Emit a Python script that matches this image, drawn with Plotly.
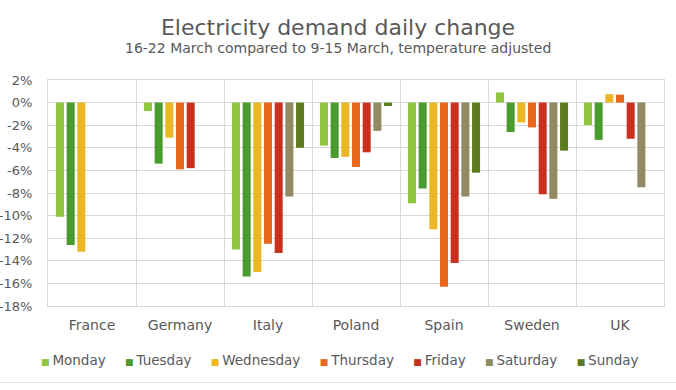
import plotly.graph_objects as go

countries = ["France", "Germany", "Italy", "Poland", "Spain", "Sweden", "UK"]
days = ["Monday", "Tuesday", "Wednesday", "Thursday", "Friday", "Saturday", "Sunday"]

monday = [-10.1, -0.75, -13.0, -3.8, -8.9, 0.9, -2.0]
tuesday = [-12.6, -5.4, -15.4, -4.9, -7.6, -2.6, -3.3]
wednesday = [-13.2, -3.1, -15.0, -4.8, -11.2, -1.75, 0.75]
thursday = [None, -5.9, -12.5, -5.7, -16.3, -2.2, 0.7]
friday = [None, -5.8, -13.3, -4.4, -14.2, -8.1, -3.2]
saturday = [None, None, -8.3, -2.5, -8.3, -8.5, -7.5]
sunday = [None, None, -4.0, -0.3, -6.2, -4.25, None]

y_tick_values = [2, 0, -2, -4, -6, -8, -10, -12, -14, -16, -18]
y_tick_labels = ["2%", "0%", "-2%", "-4%", "-6%", "-8%", "-10%", "-12%", "-14%", "-16%", "-18%"]

title_text = "Electricity demand daily change"
subtitle_text = "16-22 March compared to 9-15 March, temperature adjusted"

series = [monday, tuesday, wednesday, thursday, friday, saturday, sunday]
colors = ["#8fc63e", "#4a9b2b", "#ecb722", "#e9671c", "#c8311f", "#908961", "#5c7b1e"]

FONT = "DejaVu Sans"
GREY = "#595959"
GRID = "#d9d9d9"

fig = go.Figure()
for name, vals, col in zip(days, series, colors):
    fig.add_trace(go.Bar(x=countries, y=vals, name=name, marker=dict(color=col, line=dict(width=0)),
                         showlegend=False))

# legend row drawn as text (coloured squares + day names)
gap = "\u00a0" * 4 + "<span style='font-size:7px'>\u00a0</span>"
parts = []
for name, col in zip(days, colors):
    parts.append(f"<span style='color:{col};font-size:9px'>\u25a0</span>"
                 f"<span style='font-size:9px'>\u00a0</span>{name}")
legend_text = gap.join(parts)

fig.update_layout(
    width=676, height=390,
    margin=dict(l=48, r=12, t=80, b=84, autoexpand=False),
    paper_bgcolor="white", plot_bgcolor="white",
    font=dict(family=FONT, color=GREY, size=13),
    barmode="group", bargap=0.15, bargroupgap=0.25,
    title=dict(text=title_text, x=0.5, xanchor="center", xref="container",
               y=0.930, yanchor="middle", yref="container", automargin=False,
               font=dict(family=FONT, size=22, color=GREY)),
    annotations=[
        dict(text=subtitle_text, xref="paper", yref="paper", x=(338 - 48) / 616, y=1.1416,
             xanchor="center", yanchor="middle", showarrow=False,
             font=dict(family=FONT, size=14, color=GREY)),
        dict(text=legend_text, xref="paper", yref="paper", x=(339.5 - 48) / 616, y=-0.240,
             xanchor="center", yanchor="middle", showarrow=False,
             font=dict(family=FONT, size=13.5, color=GREY)),
    ],
    xaxis=dict(type="category", tickson="boundaries", showgrid=True, gridcolor=GRID, gridwidth=1,
               showline=True, linecolor=GRID, mirror=True, ticks="", zeroline=False,
               automargin=False,
               tickfont=dict(family=FONT, size=14, color=GREY), ticklabelstandoff=6),
    yaxis=dict(range=[-18, 2], tickvals=y_tick_values, ticktext=y_tick_labels,
               showgrid=True, gridcolor=GRID, gridwidth=1, zeroline=False,
               showline=True, linecolor=GRID, mirror=True, ticks="", automargin=False,
               tickfont=dict(family=FONT, size=13, color=GREY), ticklabelstandoff=12),
    shapes=[dict(type="line", xref="paper", yref="paper", x0=-48 / 616, x1=1 + 12 / 616,
                 y0=(306 - 382.5) / 226, y1=(306 - 382.5) / 226,
                 line=dict(color="#e3e3e3", width=1))],
)

fig.write_html("out.html", config={"displayModeBar": False},
               post_script="document.body.style.margin='0';")
